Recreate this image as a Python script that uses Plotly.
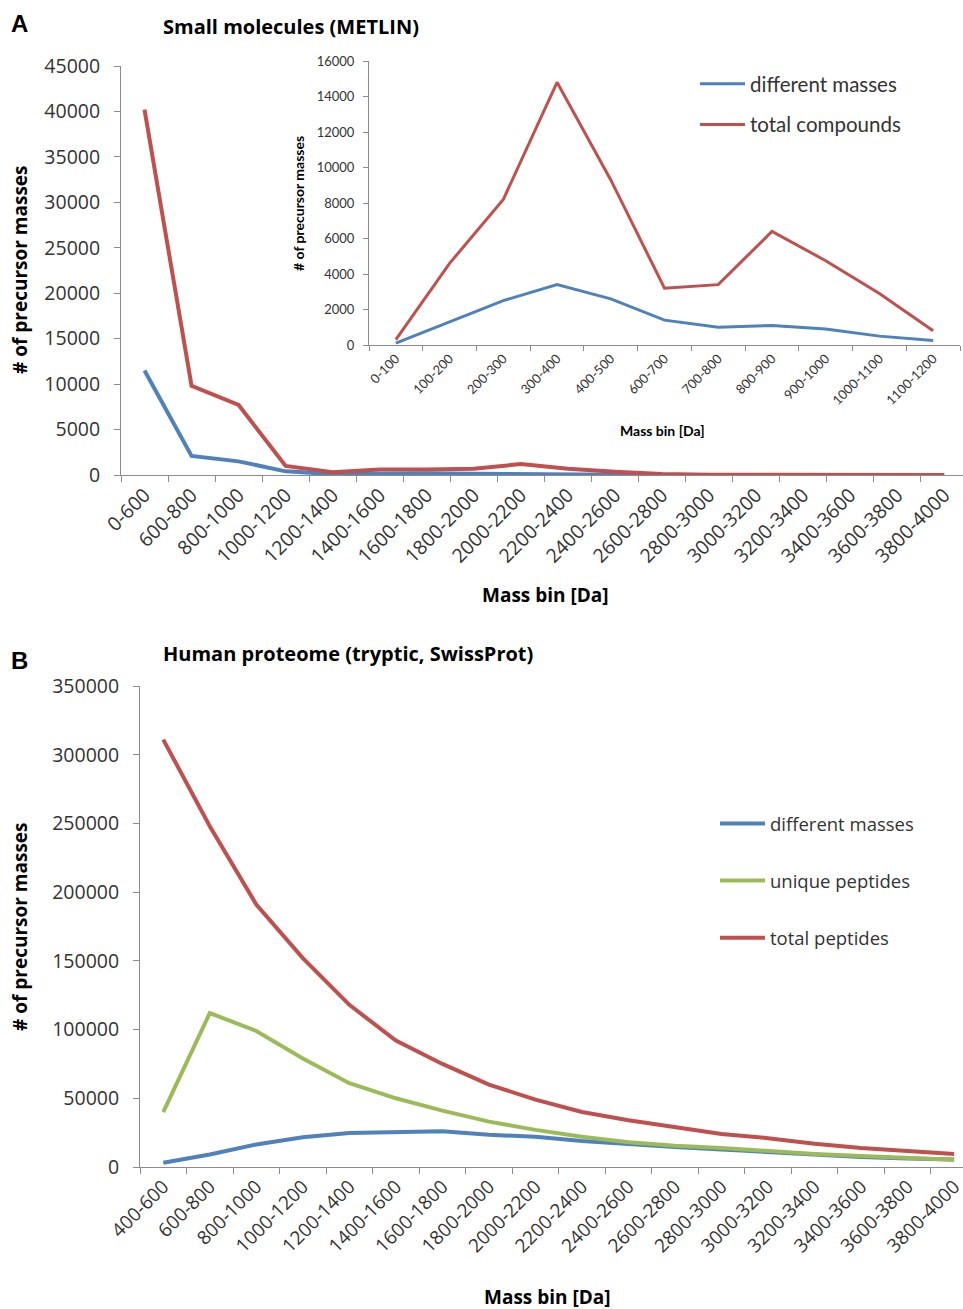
import plotly.graph_objects as go

W, H = 963, 1309

# ---------------- Panel A (main) ----------------
cats_a = ["0-600", "600-800", "800-1000", "1000-1200", "1200-1400", "1400-1600",
          "1600-1800", "1800-2000", "2000-2200", "2200-2400", "2400-2600", "2600-2800",
          "2800-3000", "3000-3200", "3200-3400", "3400-3600", "3600-3800", "3800-4000"]
a_diff = [11500, 2100, 1500, 400, 100, 190, 190, 150, 150, 80, 40, 10, 0, 0, 0, 0, 0, 0]
a_total = [40200, 9800, 7700, 1000, 300, 600, 600, 700, 1200, 700, 350, 100, 20, 0, 0, 0, 0, 0]

# ---------------- Panel A (inset) ----------------
cats_in = ["0-100", "100-200", "200-300", "300-400", "400-500", "600-700",
           "700-800", "800-900", "900-1000", "1000-1100", "1100-1200"]
in_diff = [100, 1300, 2500, 3400, 2600, 1400, 1000, 1100, 900, 500, 250]
in_total = [300, 4600, 8200, 14800, 9300, 3200, 3400, 6400, 4750, 2900, 800]

# ---------------- Panel B ----------------
cats_b = ["400-600", "600-800", "800-1000", "1000-1200", "1200-1400", "1400-1600",
          "1600-1800", "1800-2000", "2000-2200", "2200-2400", "2400-2600", "2600-2800",
          "2800-3000", "3000-3200", "3200-3400", "3400-3600", "3600-3800", "3800-4000"]
b_diff = [3100, 9100, 16400, 21600, 24700, 25300, 26000, 23500, 22000, 18900,
          16500, 14500, 12700, 10800, 9000, 7300, 6200, 5500]
b_unique = [40000, 112000, 99000, 79000, 61000, 50000, 41000, 33000, 27000, 22000,
            18000, 15500, 13800, 11500, 9500, 8000, 6600, 5300]
b_total = [311000, 248000, 191000, 152000, 118000, 92000, 75000, 60000, 49000, 40000,
           34000, 29000, 24000, 21000, 17000, 13800, 12000, 9500]

BLUE = "#4F81BD"
RED = "#C0504D"
GREEN = "#9BBB59"
AXC = "#8C8C8C"
TXT = "#333333"
FONT = "Open Sans"
NARROW = "Lato"
TICK = 19.5


def px_x(p):
    return p / W


def px_y(p):
    return 1 - p / H


fig = go.Figure()

# main A
fig.add_trace(go.Scatter(x=cats_a, y=a_diff, mode="lines", line=dict(color=BLUE, width=4),
                         xaxis="x", yaxis="y", showlegend=False))
fig.add_trace(go.Scatter(x=cats_a, y=a_total, mode="lines", line=dict(color=RED, width=4),
                         xaxis="x", yaxis="y", showlegend=False))
# inset
fig.add_trace(go.Scatter(x=cats_in, y=in_diff, mode="lines", line=dict(color=BLUE, width=3),
                         xaxis="x2", yaxis="y2", name="different masses",
                         legend="legend", legendgroup="a1"))
fig.add_trace(go.Scatter(x=cats_in, y=in_total, mode="lines", line=dict(color=RED, width=3),
                         xaxis="x2", yaxis="y2", name="total compounds",
                         legend="legend", legendgroup="a2"))
# B
fig.add_trace(go.Scatter(x=cats_b, y=b_diff, mode="lines", line=dict(color=BLUE, width=4),
                         xaxis="x3", yaxis="y3", name="different masses",
                         legend="legend2", legendgroup="b1"))
fig.add_trace(go.Scatter(x=cats_b, y=b_unique, mode="lines", line=dict(color=GREEN, width=4),
                         xaxis="x3", yaxis="y3", name="unique peptides",
                         legend="legend2", legendgroup="b2"))
fig.add_trace(go.Scatter(x=cats_b, y=b_total, mode="lines", line=dict(color=RED, width=4),
                         xaxis="x3", yaxis="y3", name="total peptides",
                         legend="legend2", legendgroup="b3"))

common_x = dict(type="category", showline=True, linecolor=AXC, linewidth=1,
                ticks="outside", tickson="boundaries", ticklen=6, tickcolor=AXC,
                tickangle=-45, showgrid=False, zeroline=False, automargin=False)
common_y = dict(showline=True, linecolor=AXC, linewidth=1, ticks="outside", ticklen=6,
                tickcolor=AXC, showgrid=False, zeroline=False, automargin=False,
                tickformat="d", exponentformat="none")

fig.update_layout(
    template="none",
    width=W, height=H, autosize=False,
    margin=dict(l=0, r=0, t=0, b=0, pad=0),
    paper_bgcolor="white", plot_bgcolor="rgba(0,0,0,0)",
    font=dict(family=FONT, color=TXT),
    xaxis=dict(common_x, domain=[px_x(121), 1.0], range=[-0.5, 17.4], anchor="y",
               tickfont=dict(size=TICK, family=FONT, color=TXT)),
    yaxis=dict(common_y, domain=[px_y(475), px_y(66)], range=[0, 45000], dtick=5000,
               anchor="x", tickfont=dict(size=TICK, family=FONT, color=TXT),
               ticklabelstandoff=10),
    xaxis2=dict(common_x, domain=[px_x(369), px_x(960)], range=[-0.5, 10.5], anchor="y2",
                tickfont=dict(size=13, family=NARROW, color=TXT), ticklen=5),
    yaxis2=dict(common_y, domain=[px_y(345), px_y(61)], range=[0, 16000], dtick=2000,
                anchor="x2", tickfont=dict(size=13, family=NARROW, color=TXT), ticklen=5,
                ticklabelstandoff=6),
    xaxis3=dict(common_x, domain=[px_x(140), 1.0], range=[-0.5, 17.19], anchor="y3",
                tickfont=dict(size=19, family=FONT, color=TXT)),
    yaxis3=dict(common_y, domain=[px_y(1167), px_y(686)], range=[0, 350000], dtick=50000,
                anchor="x3", tickfont=dict(size=TICK, family=FONT, color=TXT),
                ticklabelstandoff=10),
    legend=dict(x=px_x(695), y=px_y(64), xanchor="left", yanchor="top",
                font=dict(size=20.5, family=NARROW, color=TXT), bgcolor="rgba(0,0,0,0)",
                tracegroupgap=11, itemwidth=45),
    legend2=dict(x=px_x(715), y=px_y(805), xanchor="left", yanchor="top",
                 font=dict(size=18.5, family=FONT, color=TXT), bgcolor="rgba(0,0,0,0)",
                 tracegroupgap=30, itemwidth=45),
)

ann = []
# panel letters
ann.append(dict(text="<b>A</b>", x=px_x(9), y=px_y(23), xref="paper", yref="paper",
                xanchor="left", yanchor="middle", showarrow=False,
                font=dict(size=24, family="Liberation Sans", color="black")))
ann.append(dict(text="<b>B</b>", x=px_x(9), y=px_y(660), xref="paper", yref="paper",
                xanchor="left", yanchor="middle", showarrow=False,
                font=dict(size=24, family="Liberation Sans", color="black")))
# titles
ann.append(dict(text="<b>Small molecules (METLIN)</b>", x=px_x(161), y=px_y(26),
                xref="paper", yref="paper", xanchor="left", yanchor="middle",
                showarrow=False, font=dict(size=20, family=FONT, color="black")))
ann.append(dict(text="<b>Human proteome (tryptic, SwissProt)</b>", x=px_x(161), y=px_y(653),
                xref="paper", yref="paper", xanchor="left", yanchor="middle",
                showarrow=False, font=dict(size=20, family=FONT, color="black")))
# axis titles A
ann.append(dict(text="<b># of precursor masses</b>", x=px_x(20), y=px_y(270),
                xref="paper", yref="paper", xanchor="center", yanchor="middle",
                textangle=-90, showarrow=False, font=dict(size=19, family=FONT, color="black")))
ann.append(dict(text="<b>Mass bin [Da]</b>", x=px_x(545), y=px_y(595),
                xref="paper", yref="paper", xanchor="center", yanchor="middle",
                showarrow=False, font=dict(size=19, family=FONT, color="black")))
# inset axis titles
ann.append(dict(text="<b># of precursor masses</b>", x=px_x(298), y=px_y(204),
                xref="paper", yref="paper", xanchor="center", yanchor="middle",
                textangle=-90, showarrow=False, font=dict(size=14, family=NARROW, color="black")))
ann.append(dict(text="<b>Mass bin [Da]</b>", x=px_x(662), y=px_y(430),
                xref="paper", yref="paper", xanchor="center", yanchor="middle",
                showarrow=False, font=dict(size=14, family=NARROW, color="black")))
# axis titles B
ann.append(dict(text="<b># of precursor masses</b>", x=px_x(20), y=px_y(927),
                xref="paper", yref="paper", xanchor="center", yanchor="middle",
                textangle=-90, showarrow=False, font=dict(size=19, family=FONT, color="black")))
ann.append(dict(text="<b>Mass bin [Da]</b>", x=px_x(547), y=px_y(1297),
                xref="paper", yref="paper", xanchor="center", yanchor="middle",
                showarrow=False, font=dict(size=19, family=FONT, color="black")))
fig.update_layout(annotations=ann)

fig.write_html("out.html", config={"displayModeBar": False},
               post_script="document.body.style.margin='0';document.body.style.overflow='hidden';")
